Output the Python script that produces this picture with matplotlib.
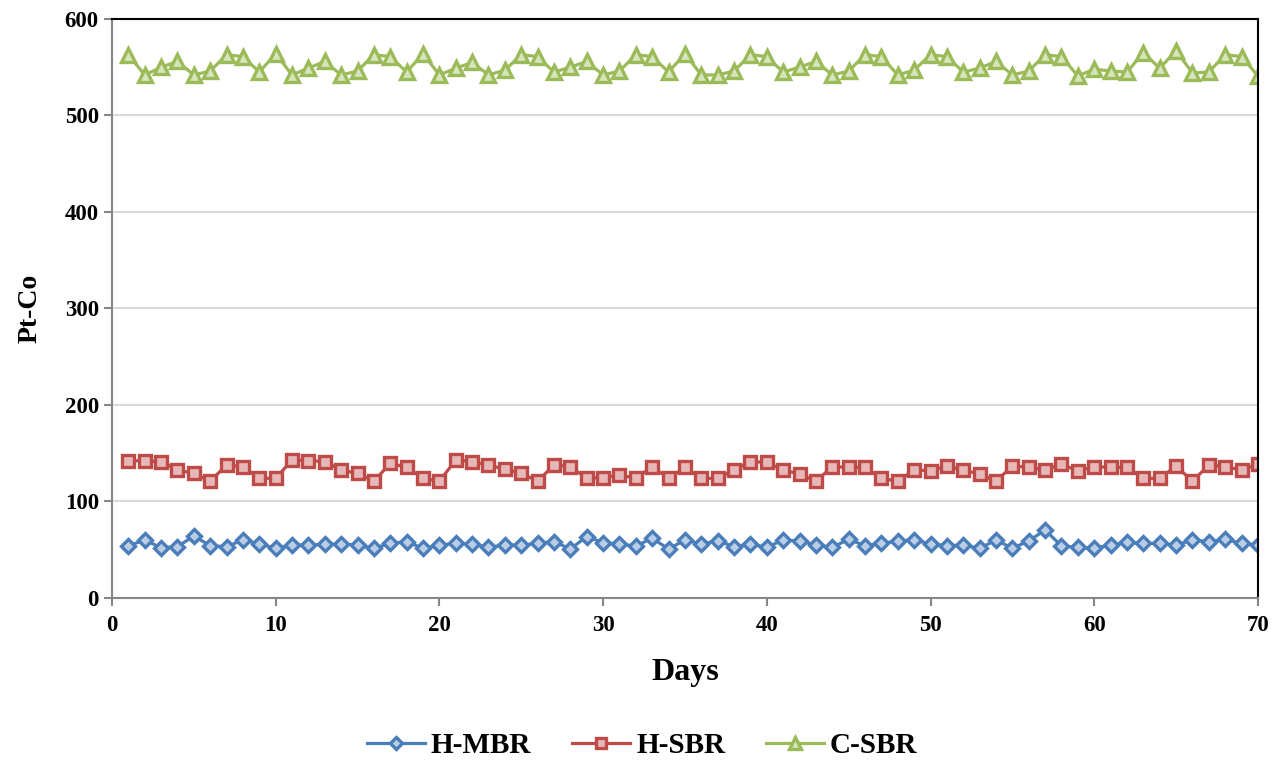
import numpy as np
import matplotlib.pyplot as plt

plt.rcParams['font.family'] = ['Liberation Serif', 'DejaVu Serif']
plt.rcParams['font.weight'] = 'bold'

days = np.arange(1, 71)

# H-MBR (Pt-Co)
h_mbr = [54.0, 60.1, 52.1, 53.2, 64.2, 54.2, 53.2, 60.1, 56.0, 51.5,
         54.9, 54.9, 55.6, 56.0, 54.9, 51.5, 56.6, 58.4, 51.5, 54.9,
         56.6, 56.0, 52.5, 54.9, 54.9, 56.6, 58.4, 50.8, 63.6, 57.3,
         56.0, 53.9, 61.9, 50.8, 60.1, 56.0, 59.1, 53.2, 56.0, 52.5,
         60.1, 59.1, 54.9, 52.5, 60.8, 54.2, 56.6, 59.1, 60.1, 56.0,
         54.2, 54.9, 51.5, 60.1, 51.5, 59.1, 70.5, 53.9, 52.5, 51.5,
         54.9, 57.7, 56.6, 56.6, 54.9, 60.1, 58.4, 60.8, 56.6, 54.9]

# H-SBR
h_sbr = [142.4, 142.0, 141.3, 132.6, 129.2, 121.0, 137.8, 136.1, 124.0, 124.0,
         143.0, 142.4, 141.3, 132.6, 129.2, 121.0, 139.6, 135.4, 124.0, 121.0,
         143.0, 141.3, 137.8, 133.3, 129.2, 121.0, 137.8, 136.1, 124.0, 124.7,
         127.5, 124.0, 136.1, 124.0, 135.4, 124.0, 124.0, 132.6, 141.3, 140.6,
         132.6, 128.5, 121.0, 136.1, 135.4, 135.4, 124.0, 121.0, 132.6, 131.9,
         136.8, 132.6, 128.5, 121.0, 136.8, 135.4, 132.6, 138.8, 131.5, 136.1,
         135.4, 135.4, 124.0, 124.0, 136.8, 121.0, 137.8, 136.1, 132.6, 138.8]

# C-SBR
c_sbr = [563, 542, 550, 556, 542, 546, 563, 561, 545, 564,
         542, 549, 556, 542, 546, 563, 561, 545, 564, 542,
         549, 555, 542, 547, 563, 561, 545, 550, 556, 542,
         546, 563, 561, 545, 564, 542, 542, 546, 563, 561,
         545, 550, 556, 542, 546, 563, 561, 542, 547, 563,
         561, 545, 549, 556, 542, 546, 563, 561, 541, 548,
         546, 545, 565, 549, 567, 544, 545, 563, 561, 541]

fig = plt.figure(figsize=(12.84, 7.65), dpi=100)
ax = fig.add_axes([0.0872, 0.2183, 0.8925, 0.7569])

ax.plot(days, h_mbr, color='#4a7ebb', lw=2.3, marker='D', ms=7,
        mfc='#b9cde5', mec='#4a7ebb', mew=2.4, label='H-MBR')
ax.plot(days, h_sbr, color='#be4b48', lw=2.3, marker='s', ms=9,
        mfc='#e6b9b8', mec='#be4b48', mew=2.4, label='H-SBR')
ax.plot(days, c_sbr, color='#9bbb59', lw=2.3, marker='^', ms=10,
        mfc='#d7e4bd', mec='#9bbb59', mew=2.4, label='C-SBR')

ax.set_xlim(0, 70)
ax.set_ylim(0, 600)
ax.set_xticks(np.arange(0, 71, 10))
ax.set_yticks(np.arange(0, 601, 100))
ax.grid(axis='y', color='#d9d9d9', lw=1.5)
ax.set_axisbelow(True)

for s in ['left', 'bottom']:
    ax.spines[s].set_color('#868686')
    ax.spines[s].set_linewidth(1.5)
for s in ['top', 'right']:
    ax.spines[s].set_color('black')
    ax.spines[s].set_linewidth(1.5)
ax.tick_params(axis='both', colors='#868686', width=1.5, length=6,
               labelcolor='black', labelsize=16.5)
ax.tick_params(axis='x', pad=6)
for lab in ax.get_xticklabels() + ax.get_yticklabels():
    lab.set_fontweight('bold')

ax.set_xlabel('Days', fontsize=23, fontweight='bold', labelpad=16)
ax.set_ylabel('Pt-Co', fontsize=20, fontweight='bold', labelpad=16)

fig.legend(loc='lower center', bbox_to_anchor=(0.5, -0.027), ncol=3, frameon=False,
           prop={'size': 21, 'weight': 'bold'}, handlelength=2.0, markerscale=0.85,
           columnspacing=1.4, handletextpad=0.2)

fig.savefig('out.png', dpi=100)
